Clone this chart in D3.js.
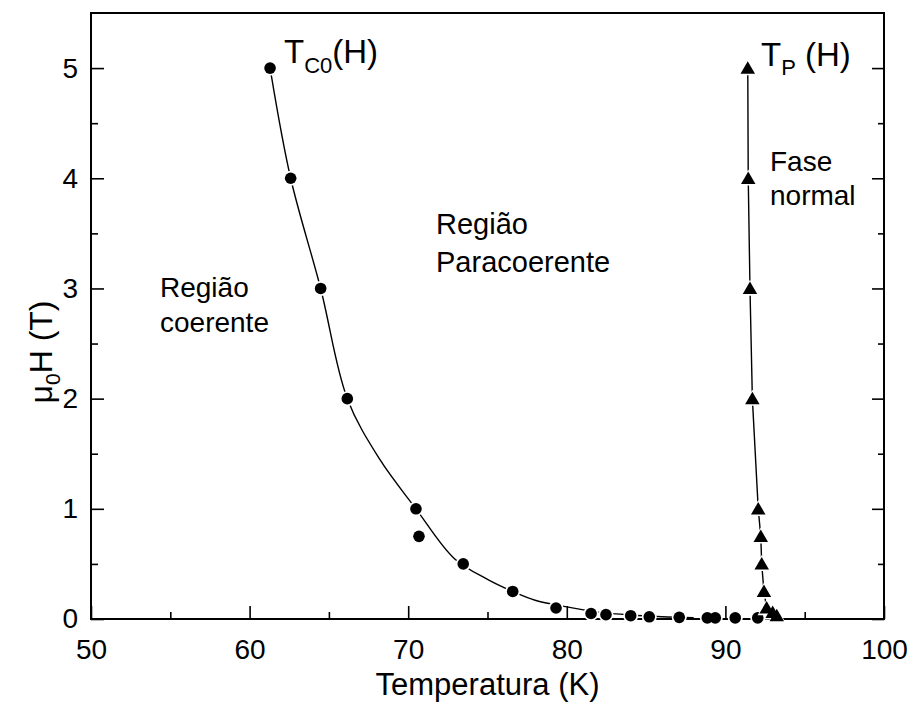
<!DOCTYPE html>
<html>
<head>
<meta charset="utf-8">
<script src="https://cdn.jsdelivr.net/npm/d3@7"></script>
<style>
  html, body { margin: 0; padding: 0; background: #fff; }
  svg { display: block; font-family: "Liberation Sans", Arial, sans-serif; }
</style>
</head>
<body>
<svg id="chart" width="909" height="708"></svg>
<script>
// ---- data ----
const tcTemps  = [61.29, 62.59, 64.48, 66.16, 70.49, 70.68, 73.47, 76.59, 79.32, 81.53, 82.47, 84.03, 85.20, 87.09, 88.86, 89.36, 90.62, 92.04];
const tcFields = [5.0, 4.0, 3.0, 2.0, 1.0, 0.75, 0.5, 0.25, 0.1, 0.05, 0.04, 0.03, 0.02, 0.015, 0.01, 0.01, 0.01, 0.01];

const tpTemps  = [91.41, 91.44, 91.55, 91.70, 92.07, 92.23, 92.29, 92.43, 92.60, 92.98, 93.24];
const tpFields = [5.0, 4.0, 3.0, 2.0, 1.0, 0.75, 0.5, 0.25, 0.1, 0.06, 0.03];

// fitted curve through T_C0 points
const fitTemps  = [61.35, 62.59, 64.48, 66.16, 68.2, 70.49, 72.9, 75.0, 76.59, 78.0, 80.0, 82.0, 84.0, 86.0, 88.0];
const fitFields = [4.95, 4.0, 3.0, 2.0, 1.45, 1.0, 0.55, 0.36, 0.25, 0.17, 0.11, 0.062, 0.036, 0.021, 0.012];

const xTicks = [50, 60, 70, 80, 90, 100];
const xMinor = [55, 65, 75, 85, 95];
const yTicks = [0, 1, 2, 3, 4, 5];
const yMinor = [0.5, 1.5, 2.5, 3.5, 4.5];

// ---- layout ----
const L = 91, R = 884, T = 13, B = 619;
const svg = d3.select("#chart");
const x = d3.scaleLinear().domain([50, 100]).range([L, R]);
const y = d3.scaleLinear().domain([0, 5.5]).range([B, T]);

// frame
svg.append("rect").attr("x", L).attr("y", T).attr("width", R - L).attr("height", B - T)
  .attr("fill", "none").attr("stroke", "#000").attr("stroke-width", 2);

// axes
const tickFont = "28px";
const gx = svg.append("g").attr("transform", `translate(0,${B})`)
  .call(d3.axisBottom(x).tickValues(xTicks).tickSize(-13).tickPadding(20).tickFormat(d3.format("d")));
const gxm = svg.append("g").attr("transform", `translate(0,${B})`)
  .call(d3.axisBottom(x).tickValues(xMinor).tickSize(-7).tickFormat(""));
const gy = svg.append("g").attr("transform", `translate(${L},0)`)
  .call(d3.axisLeft(y).tickValues(yTicks).tickSize(-13).tickPadding(13).tickFormat(d3.format("d")));
const gym = svg.append("g").attr("transform", `translate(${L},0)`)
  .call(d3.axisLeft(y).tickValues(yMinor).tickSize(-7).tickFormat(""));
const gr = svg.append("g").attr("transform", `translate(${R},0)`)
  .call(d3.axisRight(y).tickValues(yTicks).tickSize(-12).tickFormat(""));
const grm = svg.append("g").attr("transform", `translate(${R},0)`)
  .call(d3.axisRight(y).tickValues(yMinor).tickSize(-6).tickFormat(""));

[gx, gxm, gy, gym, gr, grm].forEach(g => {
  g.select(".domain").remove();
  g.selectAll("line").attr("stroke", "#000").attr("stroke-width", 1.6);
  g.selectAll("text").attr("font-size", tickFont).attr("fill", "#000")
    .attr("font-family", "Liberation Sans, Arial, sans-serif");
});

// lines
const fitData = fitTemps.map((t, i) => [t, fitFields[i]]);
const tpData = tpTemps.map((t, i) => [t, tpFields[i]]);
const line = d3.line().x(d => x(d[0])).y(d => y(d[1])).curve(d3.curveCatmullRom.alpha(0.5));
const lineLin = d3.line().x(d => x(d[0])).y(d => y(d[1]));

svg.append("path").datum(fitData).attr("d", line)
  .attr("fill", "none").attr("stroke", "#000").attr("stroke-width", 1.4);
svg.append("path").datum(tpData).attr("d", lineLin)
  .attr("fill", "none").attr("stroke", "#000").attr("stroke-width", 1.4);

// markers with a small white halo (gaps in the line)
const circ = tcTemps.map((t, i) => [t, tcFields[i]]);
svg.append("g").selectAll("circle.h").data(circ).join("circle")
  .attr("cx", d => x(d[0])).attr("cy", d => y(d[1])).attr("r", 7.5).attr("fill", "#fff");
svg.append("g").selectAll("circle.m").data(circ).join("circle")
  .attr("cx", d => x(d[0])).attr("cy", d => y(d[1])).attr("r", 5.8).attr("fill", "#000");

const triSym = (w, h) => `M0,${-h * 0.55}L${w / 2},${h * 0.45}L${-w / 2},${h * 0.45}Z`;
svg.append("g").selectAll("path.h").data(tpData).join("path")
  .attr("transform", d => `translate(${x(d[0])},${y(d[1])})`)
  .attr("d", triSym(18, 16)).attr("fill", "#fff");
svg.append("g").selectAll("path.m").data(tpData).join("path")
  .attr("transform", d => `translate(${x(d[0])},${y(d[1])})`)
  .attr("d", triSym(14.5, 12.5)).attr("fill", "#000");

// annotations
function txt(xp, yp, size, str) {
  return svg.append("text").attr("x", xp).attr("y", yp).attr("font-size", size + "px")
    .attr("fill", "#000").text(str);
}
// T_C0(H)
const tc = svg.append("text").attr("x", 284).attr("y", 63).attr("font-size", "33px").attr("fill", "#000");
tc.append("tspan").text("T");
tc.append("tspan").attr("font-size", "22px").attr("dy", 10).text("C0");
tc.append("tspan").attr("dy", -10).text("(H)");
// T_P (H)
const tp = svg.append("text").attr("x", 761).attr("y", 66).attr("font-size", "33px").attr("fill", "#000");
tp.append("tspan").text("T");
tp.append("tspan").attr("font-size", "22px").attr("dy", 9).text("P");
tp.append("tspan").attr("dy", -9).text("\u00A0(H)");

txt(770, 171, 28, "Fase");
txt(770, 205, 28, "normal");
txt(160, 297, 28, "Região");
txt(160, 332, 28, "coerente");
txt(436, 234, 29, "Região");
txt(436, 272, 29, "Paracoerente");

// axis titles
svg.append("text").attr("x", (L + R) / 2).attr("y", 695).attr("text-anchor", "middle")
  .attr("font-size", "31px").attr("fill", "#000").text("Temperatura (K)");
const yl = svg.append("text").attr("transform", "translate(52,352) rotate(-90)")
  .attr("text-anchor", "middle").attr("font-size", "32px").attr("fill", "#000");
yl.append("tspan").text("\u03BC");
yl.append("tspan").attr("font-size", "21px").attr("dy", 8).text("0");
yl.append("tspan").attr("dy", -8).text("H (T)");
</script>
</body>
</html>
